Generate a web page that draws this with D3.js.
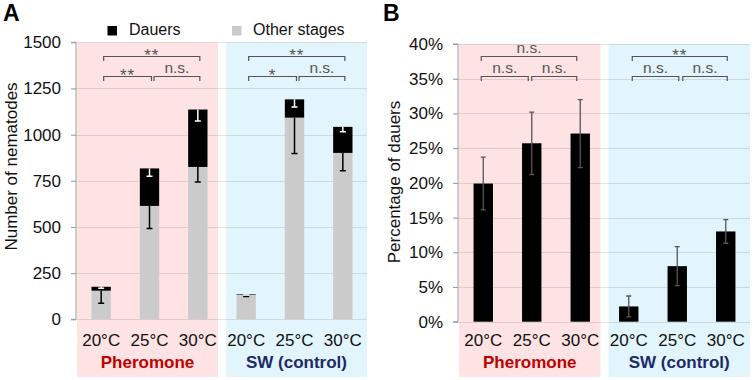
<!DOCTYPE html>
<html><head><meta charset="utf-8">
<script src="https://cdn.jsdelivr.net/npm/d3@7"></script>
<style>
html,body{margin:0;padding:0;background:#fff;}
svg{display:block;font-family:"Liberation Sans",Arial,sans-serif;}
</style></head>
<body>
<svg id="c" width="754" height="380"></svg>
<script>
// ---- data ----
const temps = ["20°C","25°C","30°C","20°C","25°C","30°C"];
const groups = ["Pheromone","SW (control)"];
const otherStages = [155, 614, 825, 132, 1092, 901];
const dauers      = [21, 203, 311, 3, 99, 141];
const otherErr    = [68, 122, 81, 8, 194, 97];
const dauerErr    = [8, 42, 62, 3, 41, 27];
const pctDauers   = [19.9, 25.7, 27.1, 2.2, 8.0, 13.0];
const pctErr      = [3.8, 4.5, 4.9, 1.5, 2.8, 1.7];
const ticksA = [0, 250, 500, 750, 1000, 1250, 1500];
const ticksB = [0, 5, 10, 15, 20, 25, 30, 35, 40];
const sigA = [["**","**","n.s."],["**","*","n.s."]]; // [top, lower-left, lower-right]
const sigB = [["n.s.","n.s.","n.s."],["**","n.s.","n.s."]];

const svg = d3.select("#c");
const idx = d3.range(6);
const PINK = "#fde3e3", BLUE = "#e2f4fc", GREY = "#cbcbcb";
const groupColors = ["#c00000", "#1c2a66"];

function panel(opt){
  const x = d3.scaleBand().domain(idx).range([opt.x0, opt.x1]).paddingInner(0.6).paddingOuter(0.3);
  const y = d3.scaleLinear().domain([0, opt.max]).range([opt.y0, opt.y1]);
  const g = svg.append("g");
  const step = x.step();
  const bandStart = i => x(i) - x.paddingInner()*step/2;
  // backgrounds
  [[0,2,PINK],[3,5,BLUE]].forEach(([a,b,col],k)=>{
    const xs = k===0 ? opt.x0 : (opt.x0+opt.x1)/2 + 4;
    const xe = k===0 ? (opt.x0+opt.x1)/2 - 4 : opt.x1;
    g.append("rect").attr("x", xs).attr("y", opt.y1).attr("width", xe-xs).attr("height", 377-opt.y1).attr("fill", col);
  });
  // gridlines
  g.selectAll(".grid").data(opt.ticks).join("line")
    .attr("x1", opt.x0-5).attr("x2", opt.x1)
    .attr("y1", d=>Math.round(y(d))+0.5).attr("y2", d=>Math.round(y(d))+0.5)
    .attr("stroke", "#000").attr("stroke-opacity", 0.1).attr("stroke-width", 1);
  // y axis
  const ax = g.append("g").attr("transform", `translate(${opt.x0-1},0)`)
    .call(d3.axisLeft(y).tickValues(opt.ticks).tickSize(5).tickPadding(10).tickFormat(opt.fmt));
  ax.select(".domain").attr("stroke", "#9a9a9a").attr("d", `M-5,${y(opt.max)}H0V${y(0)}H-5`);
  ax.selectAll(".tick line").attr("stroke", "#9a9a9a");
  ax.selectAll("text").attr("font-size", 17).attr("fill", "#111").attr("font-family", "Liberation Sans, Arial, sans-serif");
  // x labels
  g.selectAll(".xl").data(idx).join("text")
    .attr("x", i=>x(i)+x.bandwidth()/2).attr("y", 346)
    .attr("text-anchor","middle").attr("font-size",17).attr("fill","#111").text(i=>temps[i]);
  groups.forEach((gname,k)=>{
    const cx = k===0 ? (opt.x0 + (opt.x0+opt.x1)/2 - 4)/2 : ((opt.x0+opt.x1)/2 + 4 + opt.x1)/2;
    g.append("text").attr("x", cx).attr("y", 368).attr("text-anchor","middle")
      .attr("font-size",17).attr("font-weight","bold").attr("fill",groupColors[k]).text(gname);
  });
  // y title
  g.append("text").attr("transform", `translate(${opt.titleX},${opt.titleY}) rotate(-90)`)
    .attr("text-anchor","middle").attr("font-size",17).attr("fill","#111").text(opt.title);
  // panel letter
  g.append("text").attr("x", opt.letterX).attr("y", 21).attr("font-size",23).attr("font-weight","bold").attr("fill","#000").text(opt.letter);
  // significance brackets
  const yTop = 56.5, yLow = 76.5, drop = 4.5;
  opt.sig.forEach((s,k)=>{
    const c = i => x(i)+x.bandwidth()/2;
    const b = k*3;
    const o1 = opt.brOff[k][0], o2 = opt.brOff[k][1];
    const brackets = [
      [c(b)+o1, c(b+2)+o2, yTop, s[0]],
      [c(b)+o1, c(b+1)+o2, yLow, s[1]],
      [c(b+1)+o1+2, c(b+2)+o2, yLow, s[2]]
    ];
    brackets.forEach(([xa,xb,yy,lab])=>{
      g.append("path").attr("d", `M${xa},${yy+drop}V${yy}H${xb}V${yy+drop}`)
        .attr("fill","none").attr("stroke","#555").attr("stroke-width",1.2);
      const isStar = lab.indexOf("*")>=0;
      g.append("text").attr("x",(xa+xb)/2).attr("y", isStar ? yy+4 : yy-3.5)
        .attr("text-anchor","middle").attr("font-size", isStar?17:15.5)
        .attr("letter-spacing", isStar? 1 : 0)
        .attr("fill","#555").text(lab);
    });
  });
  return {g,x,y};
}

// Panel A
const A = panel({x0:77, x1:367, y0:319.3, y1:42.3, max:1500, ticks:ticksA, fmt:d3.format("d"),
  title:"Number of nematodes", titleX:16.5, titleY:166.5, letter:"A", letterX:3, sig:sigA,
  brOff:[[2.5,2],[2.5,2]]});
{
  const {g,x,y} = A;
  const bw = x.bandwidth();
  g.selectAll(".other").data(idx).join("rect")
    .attr("x", i=>x(i)).attr("width", bw)
    .attr("y", i=>y(otherStages[i])).attr("height", i=>y(0)-y(otherStages[i])).attr("fill", GREY);
  g.selectAll(".dauer").data(idx).join("rect")
    .attr("x", i=>x(i)).attr("width", bw)
    .attr("y", i=>y(otherStages[i]+dauers[i])).attr("height", i=>y(otherStages[i])-y(otherStages[i]+dauers[i])).attr("fill", "#000");
  // error bars (downward)
  const cap = 3;
  idx.forEach(i=>{
    const cx = x(i)+bw/2;
    const t1 = y(otherStages[i]), b1 = y(otherStages[i]-otherErr[i]);
    g.append("path").attr("d", `M${cx},${t1}V${b1}M${cx-cap},${b1}H${cx+cap}`)
      .attr("stroke","#000").attr("stroke-width",1.5).attr("fill","none");
    const tot = otherStages[i]+dauers[i];
    const t2 = y(tot), b2 = y(tot-dauerErr[i]);
    g.append("path").attr("d", `M${cx},${t2}V${b2}M${cx-cap},${b2}H${cx+cap}`)
      .attr("stroke","#fff").attr("stroke-width",1.5).attr("fill","none");
  });
  // legend
  const leg = g.append("g");
  leg.append("rect").attr("x",107.5).attr("y",26).attr("width",9.5).attr("height",9.5).attr("fill","#000");
  leg.append("text").attr("x",129).attr("y",34.5).attr("font-size",16).attr("fill","#111").text("Dauers");
  leg.append("rect").attr("x",232).attr("y",26).attr("width",9.5).attr("height",9.5).attr("fill",GREY);
  leg.append("text").attr("x",253).attr("y",34.5).attr("font-size",16).attr("fill","#111").text("Other stages");
}

// Panel B
const B = panel({x0:459, x1:750, y0:321.7, y1:44, max:40, ticks:ticksB, fmt:d=>d+"%",
  title:"Percentage of dauers", titleX:399.5, titleY:182, letter:"B", letterX:383, sig:sigB,
  brOff:[[-2,-3.5],[3.5,1.5]]});
{
  const {g,x,y} = B;
  const bw = x.bandwidth();
  g.selectAll(".pb").data(idx).join("rect")
    .attr("x", i=>x(i)).attr("width", bw)
    .attr("y", i=>y(pctDauers[i])).attr("height", i=>y(0)-y(pctDauers[i])).attr("fill","#000");
  const cap = 2.5;
  idx.forEach(i=>{
    const cx = x(i)+bw/2;
    const t = y(pctDauers[i]+pctErr[i]), b = y(pctDauers[i]-pctErr[i]);
    g.append("path").attr("d", `M${cx-cap},${t}H${cx+cap}M${cx},${t}V${b}M${cx-cap},${b}H${cx+cap}`)
      .attr("stroke","#555").attr("stroke-width",1.3).attr("fill","none");
  });
}
</script>
</body></html>
